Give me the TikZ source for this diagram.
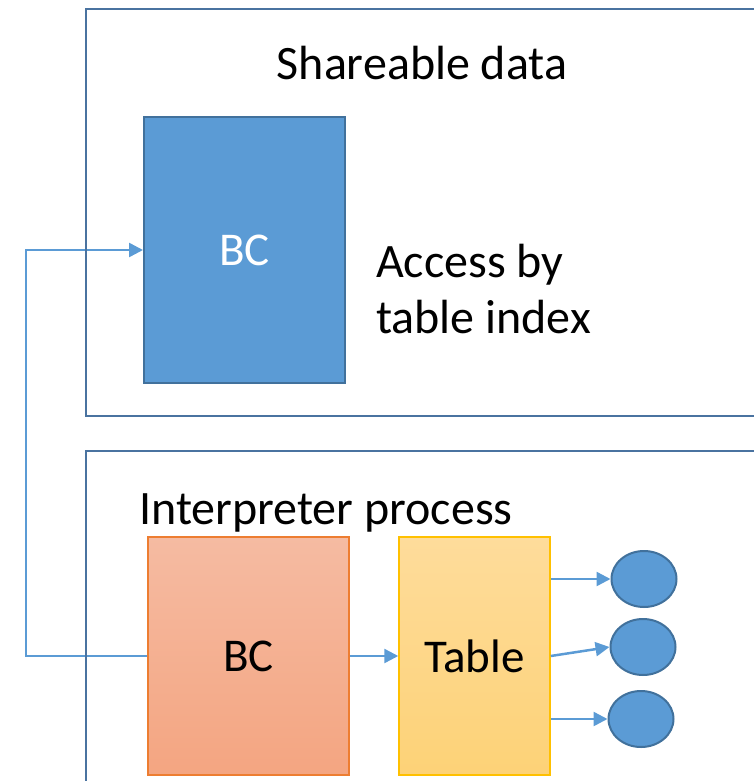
\documentclass[tikz,border=0pt]{standalone}
\usepackage{fontspec}
\setmainfont{Carlito}
\usetikzlibrary{arrows.meta,shapes.geometric}

\definecolor{accentblue}{HTML}{5B9BD5}
\definecolor{edgeblue}{HTML}{41719C}
\definecolor{frameblue}{HTML}{4A73A0}
\definecolor{peachtop}{HTML}{F5BBA2}
\definecolor{peachbot}{HTML}{F4A581}
\definecolor{peachedge}{HTML}{ED7D31}
\definecolor{goldtop}{HTML}{FEDC9B}
\definecolor{goldbot}{HTML}{FDD277}
\definecolor{goldedge}{HTML}{FFC000}

\tikzset{
  bigtext/.style={font=\fontsize{48}{56}\selectfont},
  boxtext/.style={font=\fontsize{47}{55}\selectfont},
  frame/.style={draw=frameblue, line width=2pt},
  sharedbox/.style={rectangle, draw=edgeblue, fill=accentblue, line width=2pt,
    inner sep=0pt, minimum width=201pt, text=white, boxtext},
  bcbox/.style={rectangle, draw=peachedge, line width=1.5pt, top color=peachtop,
    bottom color=peachbot, inner sep=0pt, minimum width=201pt, minimum height=238pt, boxtext},
  tablebox/.style={rectangle, draw=goldedge, line width=1.5pt, top color=goldtop,
    bottom color=goldbot, inner sep=0pt, minimum width=151pt, minimum height=238pt, boxtext},
  slot/.style={ellipse, draw=edgeblue, fill=accentblue, line width=2pt, inner sep=0pt,
    minimum width=65pt, minimum height=56pt},
  link/.style={draw=accentblue, line width=2.5pt, -{Triangle[length=14pt,width=14pt]}},
}

\begin{document}
\begin{tikzpicture}[x=1pt,y=-1pt]
  \useasboundingbox (0,0) rectangle (754,781);

  % shared region contents
  \node[sharedbox, minimum height=266pt] (sbc) at (244.5,250) {BC};
  \node[bigtext, anchor=base] (sharetitle) at (422,80) {Shareable data};
  \node[bigtext, anchor=base west, align=left, inner sep=0pt] (access) at (376,333)
    {Access by\\table index};

  % interpreter process contents
  \node[bigtext, anchor=base west, inner sep=0pt] (interp) at (139,524) {Interpreter process};
  \node[bcbox] (pbc) at (248.5,656) {BC};
  \node[tablebox] (tbl) at (474.5,656) {Table};
  \node[slot] (e1) at (644,579) {};
  \node[slot] (e2) at (643,647) {};
  \node[slot] (e3) at (641,719) {};

  % connectors
  \coordinate (turn) at (26,250);
  \draw[link] (pbc.west) -| (turn) -- (sbc.west);
  \draw[link] (pbc.east) -- (tbl.west);
  \draw[link] (tbl.east |- e1) -- (e1.west);
  \draw[link] (tbl.east) -- (e2.west);
  \draw[link] (tbl.east |- e3) -- (e3.west);

  % region frames, open at the picture edge
  \draw[frame] (760,9) -- (86,9) -- (86,416) -- (760,416);
  \draw[frame] (760,451) -- (86,451) -- (86,790);
\end{tikzpicture}
\end{document}
